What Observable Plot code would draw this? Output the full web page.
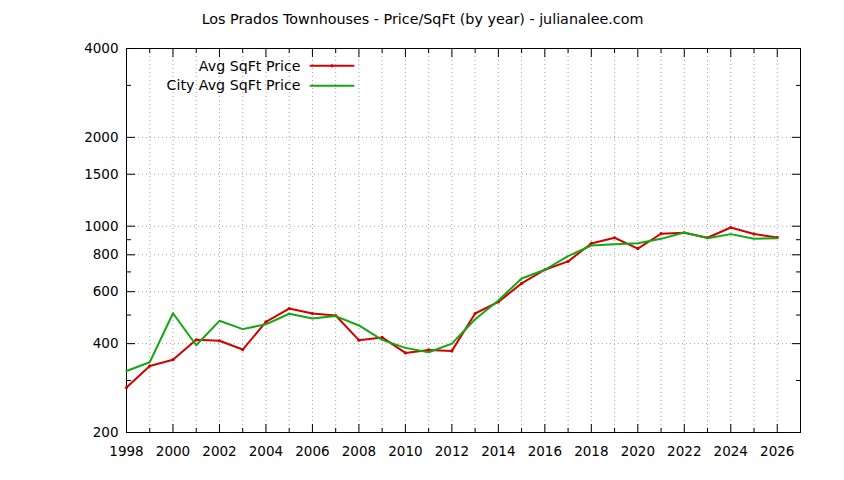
<!DOCTYPE html>
<html>
<head>
<meta charset="utf-8">
<script src="https://cdn.jsdelivr.net/npm/d3@7"></script>
<script src="https://cdn.jsdelivr.net/npm/@observablehq/plot@0.6"></script>
<style>
  html, body { margin: 0; padding: 0; background: #fff; }
  #chart svg { display: block; }
</style>
</head>
<body>
<div id="chart"></div>
<script>
const title = "Los Prados Townhouses - Price/SqFt (by year) - julianalee.com";
const years = d3.range(1998, 2027);
const avgPrice = [284,336,353,412,409,382,474,526,506,498,411,420,372,381,378,506,554,640,712,760,874,914,840,943,950,914,990,941,916];
const cityPrice = [323,346,507,395,478,448,465,505,487,496,461,412,387,374,400,484,560,665,712,792,860,869,875,906,952,911,940,906,911];
const seriesNames = ["Avg SqFt Price", "City Avg SqFt Price"];
const xLabelYears = d3.range(1998, 2027, 2);
const xMinorYears = d3.range(1999, 2027, 2);
const xGridYears = d3.range(1999, 2027);
const yMajorTicks = [200, 400, 600, 800, 1000, 1500, 2000, 4000];
const yMinorTicks = [300, 500, 700, 900, 3000];
const yGridTicks = [400, 600, 800, 1000, 1500, 2000];

const red = "#d40000";
const green = "#12a812";
const gridStyle = {stroke: "#a0a0a0", strokeOpacity: 1, strokeDasharray: "1,3"};

const data = years.map((year, i) => ({year, avg: avgPrice[i], city: cityPrice[i]}));

const lineShape = {draw(context, l) { context.moveTo(0, 0); context.lineTo(0, -l); }};

const chart = Plot.plot({
  width: 844,
  height: 480,
  marginLeft: 126,
  marginRight: 44,
  marginTop: 48,
  marginBottom: 48,
  style: {fontFamily: "DejaVu Sans", fontSize: "13.5px", color: "#000", background: "#fff"},
  x: {domain: [1998, 2027]},
  y: {type: "log", domain: [200, 4000]},
  marks: [
    Plot.gridX(xGridYears, gridStyle),
    Plot.gridY(yGridTicks, gridStyle),
    // inward ticks
    Plot.axisX(xLabelYears, {anchor: "bottom", tickSize: 8, dy: -8, fill: "none", label: null}),
    Plot.axisX(xMinorYears, {anchor: "bottom", tickSize: 4, dy: -4, fill: "none", label: null}),
    Plot.axisX(xLabelYears, {anchor: "top", tickSize: 8, dy: 8, fill: "none", label: null}),
    Plot.axisX(xMinorYears, {anchor: "top", tickSize: 4, dy: 4, fill: "none", label: null}),
    Plot.axisY(yMajorTicks, {anchor: "left", tickSize: 9, dx: 9, fill: "none", label: null}),
    Plot.axisY(yMinorTicks, {anchor: "left", tickSize: 5, dx: 5, fill: "none", label: null}),
    Plot.axisY(yMajorTicks, {anchor: "right", tickSize: 9, dx: -9, fill: "none", label: null}),
    Plot.axisY(yMinorTicks, {anchor: "right", tickSize: 5, dx: -5, fill: "none", label: null}),
    // labels
    Plot.axisX(xLabelYears, {anchor: "bottom", tickSize: 0, tickPadding: 14, tickFormat: d => String(d), label: null, fontSize: 13.5}),
    Plot.axisY(yMajorTicks, {anchor: "left", tickSize: 0, tickPadding: 8, tickFormat: d => String(d), label: null, fontSize: 13.5}),
    Plot.frame({stroke: "#000", strokeWidth: 1}),
    // series
    Plot.line(data, {x: "year", y: "avg", stroke: red, strokeWidth: 2}),
    Plot.dot(data, {x: "year", y: "avg", r: 1.6, fill: red, stroke: "none"}),
    Plot.line(data, {x: "year", y: "city", stroke: green, strokeWidth: 2}),
    // title
    Plot.text([title], {frameAnchor: "top", dx: -41, dy: -29, text: d => d, fontSize: 14.3, lineAnchor: "middle"}),
    // legend
    Plot.text([seriesNames[0]], {frameAnchor: "top-left", dx: 174, dy: 17.5, text: d => d, textAnchor: "end", lineAnchor: "middle", fontSize: 14.2}),
    Plot.text([seriesNames[1]], {frameAnchor: "top-left", dx: 174, dy: 37, text: d => d, textAnchor: "end", lineAnchor: "middle", fontSize: 14.2}),
    Plot.vector([0], {frameAnchor: "top-left", dx: 184, dy: 17.3, rotate: 90, length: 43, anchor: "start", shape: lineShape, stroke: red, strokeWidth: 2}),
    Plot.dot([0], {frameAnchor: "top-left", dx: 205.5, dy: 17.3, r: 1.6, fill: red, stroke: "none"}),
    Plot.vector([0], {frameAnchor: "top-left", dx: 184, dy: 37.3, rotate: 90, length: 43, anchor: "start", shape: lineShape, stroke: green, strokeWidth: 2})
  ]
});
document.getElementById("chart").appendChild(chart);
</script>
</body>
</html>
